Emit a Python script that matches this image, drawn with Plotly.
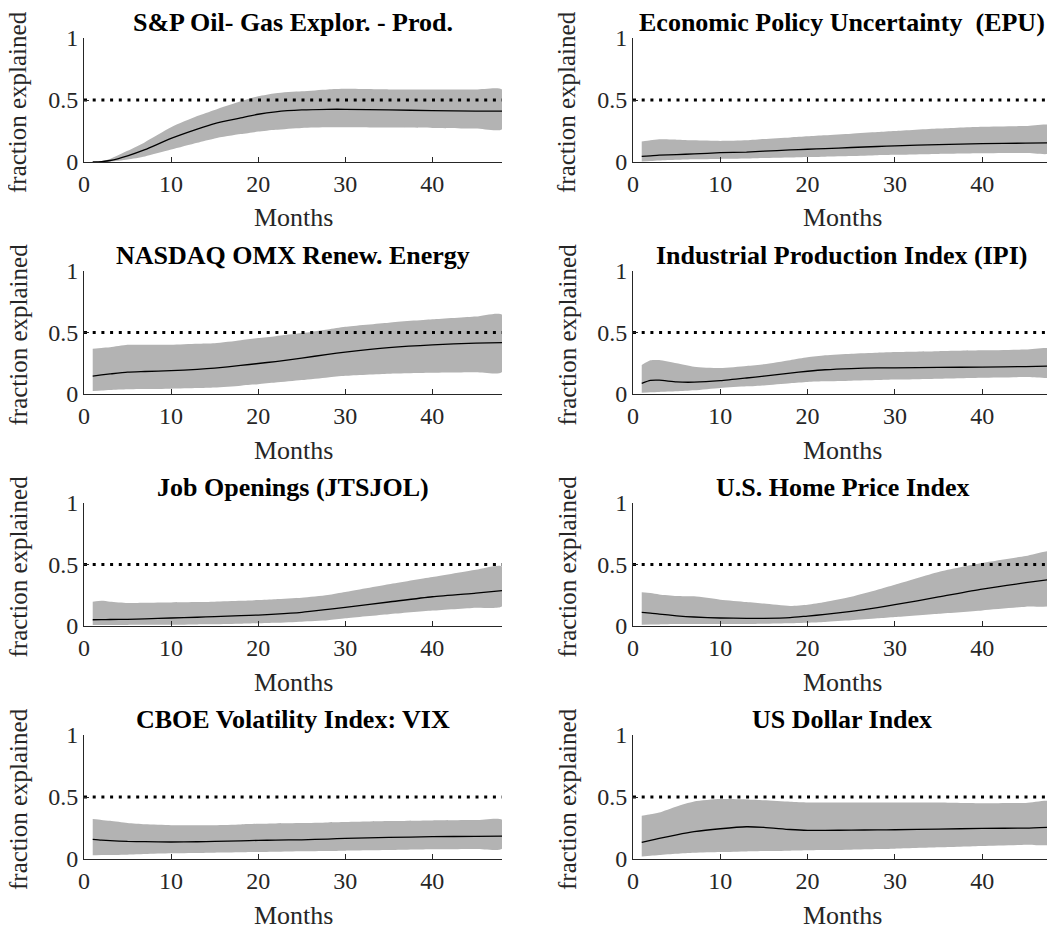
import plotly.graph_objects as go

months = [1, 2, 3, 5, 7, 10, 13, 15, 18, 20, 22, 25, 28, 30, 35, 40, 45, 48]

titles = ["S&P Oil- Gas Explor. - Prod.", "Economic Policy Uncertainty  (EPU)",
          "NASDAQ OMX Renew. Energy", "Industrial Production Index (IPI)",
          "Job Openings (JTSJOL)", "U.S. Home Price Index",
          "CBOE Volatility Index: VIX", "US Dollar Index"]

oil_med = [0.0, 0.003, 0.012, 0.05, 0.10, 0.19, 0.265, 0.31, 0.355, 0.385, 0.405, 0.42, 0.425, 0.425, 0.42, 0.415, 0.41, 0.41]
oil_hi = [0.0, 0.008, 0.025, 0.09, 0.16, 0.28, 0.37, 0.42, 0.49, 0.53, 0.555, 0.57, 0.585, 0.59, 0.585, 0.585, 0.585, 0.585]
oil_lo = [0.0, 0.0, 0.002, 0.02, 0.045, 0.10, 0.155, 0.19, 0.225, 0.245, 0.26, 0.275, 0.28, 0.28, 0.278, 0.275, 0.27, 0.265]

epu_med = [0.045, 0.05, 0.055, 0.06, 0.065, 0.075, 0.08, 0.087, 0.097, 0.103, 0.108, 0.117, 0.125, 0.13, 0.14, 0.148, 0.152, 0.155]
epu_hi = [0.165, 0.175, 0.183, 0.18, 0.175, 0.17, 0.175, 0.185, 0.198, 0.207, 0.215, 0.228, 0.242, 0.25, 0.27, 0.285, 0.29, 0.293]
epu_lo = [0.005, 0.008, 0.012, 0.018, 0.022, 0.025, 0.028, 0.032, 0.036, 0.04, 0.043, 0.048, 0.055, 0.058, 0.065, 0.07, 0.072, 0.073]

nas_med = [0.146, 0.155, 0.163, 0.178, 0.183, 0.19, 0.2, 0.21, 0.232, 0.248, 0.264, 0.292, 0.322, 0.34, 0.377, 0.40, 0.413, 0.418]
nas_hi = [0.368, 0.375, 0.38, 0.40, 0.40, 0.40, 0.408, 0.412, 0.437, 0.455, 0.47, 0.495, 0.525, 0.547, 0.58, 0.607, 0.63, 0.645]
nas_lo = [0.024, 0.028, 0.032, 0.038, 0.04, 0.043, 0.048, 0.053, 0.068, 0.08, 0.093, 0.113, 0.135, 0.148, 0.165, 0.173, 0.177, 0.179]

ipi_med = [0.087, 0.11, 0.112, 0.098, 0.096, 0.108, 0.13, 0.146, 0.17, 0.185, 0.197, 0.207, 0.212, 0.213, 0.216, 0.219, 0.223, 0.227]
ipi_hi = [0.236, 0.274, 0.276, 0.25, 0.222, 0.211, 0.228, 0.242, 0.275, 0.298, 0.315, 0.328, 0.336, 0.341, 0.348, 0.355, 0.362, 0.366]
ipi_lo = [0.011, 0.014, 0.017, 0.022, 0.03, 0.049, 0.062, 0.07, 0.088, 0.098, 0.103, 0.108, 0.113, 0.117, 0.125, 0.133, 0.138, 0.141]

job_med = [0.051, 0.052, 0.053, 0.054, 0.058, 0.065, 0.071, 0.076, 0.084, 0.089, 0.096, 0.111, 0.135, 0.152, 0.195, 0.238, 0.268, 0.287]
job_hi = [0.198, 0.205, 0.198, 0.188, 0.19, 0.192, 0.195, 0.198, 0.205, 0.211, 0.218, 0.23, 0.252, 0.276, 0.339, 0.398, 0.458, 0.485]
job_lo = [0.008, 0.008, 0.008, 0.009, 0.01, 0.011, 0.013, 0.014, 0.018, 0.022, 0.026, 0.035, 0.046, 0.062, 0.095, 0.125, 0.149, 0.16]

hpi_med = [0.111, 0.105, 0.097, 0.083, 0.073, 0.065, 0.062, 0.062, 0.068, 0.081, 0.094, 0.119, 0.15, 0.173, 0.236, 0.30, 0.352, 0.38]
hpi_hi = [0.274, 0.268, 0.257, 0.244, 0.241, 0.214, 0.195, 0.182, 0.163, 0.173, 0.195, 0.238, 0.295, 0.336, 0.44, 0.512, 0.569, 0.604]
hpi_lo = [0.011, 0.012, 0.013, 0.016, 0.016, 0.016, 0.017, 0.019, 0.023, 0.027, 0.033, 0.046, 0.062, 0.073, 0.10, 0.127, 0.157, 0.173]

vix_med = [0.158, 0.152, 0.148, 0.142, 0.14, 0.137, 0.139, 0.142, 0.146, 0.15, 0.152, 0.155, 0.161, 0.166, 0.174, 0.18, 0.183, 0.185]
vix_hi = [0.322, 0.315, 0.308, 0.29, 0.28, 0.273, 0.273, 0.273, 0.279, 0.284, 0.287, 0.29, 0.295, 0.298, 0.306, 0.311, 0.314, 0.316]
vix_lo = [0.03, 0.032, 0.033, 0.035, 0.04, 0.046, 0.049, 0.051, 0.054, 0.056, 0.058, 0.062, 0.065, 0.067, 0.072, 0.078, 0.081, 0.083]

usd_med = [0.134, 0.15, 0.166, 0.195, 0.22, 0.244, 0.26, 0.255, 0.238, 0.231, 0.231, 0.233, 0.235, 0.236, 0.241, 0.247, 0.249, 0.257]
usd_hi = [0.349, 0.36, 0.375, 0.424, 0.464, 0.483, 0.48, 0.474, 0.462, 0.456, 0.455, 0.456, 0.456, 0.456, 0.456, 0.45, 0.452, 0.461]
usd_lo = [0.021, 0.026, 0.032, 0.042, 0.05, 0.056, 0.061, 0.064, 0.067, 0.07, 0.072, 0.075, 0.08, 0.083, 0.094, 0.105, 0.115, 0.123]

panels = [
    (oil_med, oil_hi, oil_lo), (epu_med, epu_hi, epu_lo),
    (nas_med, nas_hi, nas_lo), (ipi_med, ipi_hi, ipi_lo),
    (job_med, job_hi, job_lo), (hpi_med, hpi_hi, hpi_lo),
    (vix_med, vix_hi, vix_lo), (usd_med, usd_hi, usd_lo),
]

threshold = 0.5
x_ticks = [0, 10, 20, 30, 40]
y_ticks = [0, 0.5, 1]
x_range = [0, 48]

# the page body has an 8px margin, so the figure is drawn 8px in from the window corner
OFF = 8
W, H = 1055 - OFF, 932 - OFF
col_px = [(84 - OFF, 502 - OFF), (633 - OFF, 1052 - OFF)]
row_px = [(38 - OFF, 162 - OFF), (271 - OFF, 394 - OFF), (503 - OFF, 626 - OFF), (735 - OFF, 859 - OFF)]

FONT = "Liberation Serif, Times New Roman, serif"
AX = "#262626"
BAND = "#b3b3b3"

fig = go.Figure()
annotations = []
for i, (med, hi, lo) in enumerate(panels):
    r, c = divmod(i, 2)
    n = i + 1
    xa = "x" if n == 1 else f"x{n}"
    ya = "y" if n == 1 else f"y{n}"
    fig.add_trace(go.Scatter(
        x=months + months[::-1], y=hi + lo[::-1], xaxis=xa, yaxis=ya,
        fill="toself", fillcolor=BAND, line=dict(width=0, shape="spline", smoothing=0.6),
        mode="lines", hoverinfo="skip", showlegend=False))
    fig.add_trace(go.Scatter(
        x=x_range, y=[threshold, threshold], xaxis=xa, yaxis=ya, mode="lines",
        line=dict(color="black", width=3, dash="3px,5.7px"), showlegend=False))
    fig.add_trace(go.Scatter(
        x=months, y=med, xaxis=xa, yaxis=ya, mode="lines",
        line=dict(color="black", width=1.3, shape="spline", smoothing=0.6), showlegend=False))

    x0, x1 = col_px[c]
    yt, yb = row_px[r]
    xd = [x0 / W, x1 / W]
    yd = [1 - yb / H, 1 - yt / H]
    axkey = "xaxis" if n == 1 else f"xaxis{n}"
    aykey = "yaxis" if n == 1 else f"yaxis{n}"
    fig.layout[axkey] = dict(
        domain=xd, range=x_range, tickvals=x_ticks, ticks="inside", ticklen=5,
        tickcolor=AX, showline=True, linecolor=AX, linewidth=1, showgrid=False,
        zeroline=False, anchor=ya, automargin=False,
        tickfont=dict(family=FONT, size=24, color=AX))
    fig.layout[aykey] = dict(
        domain=yd, range=[0, 1], tickvals=y_ticks, ticktext=["0", "0.5", "1"],
        ticks="inside", ticklen=5, tickcolor=AX, showline=True, linecolor=AX,
        linewidth=1, showgrid=False, zeroline=False, anchor=xa, automargin=False,
        tickfont=dict(family=FONT, size=24, color=AX))

    xc = (xd[0] + xd[1]) / 2
    annotations.append(dict(
        text=f"<b>{titles[i]}</b>", x=xc, y=yd[1], xref="paper", yref="paper",
        xanchor="center", yanchor="bottom", yshift=-1, showarrow=False,
        font=dict(family=FONT, size=26, color="black")))
    annotations.append(dict(
        text="fraction explained", x=xd[0], y=(yd[0] + yd[1]) / 2, xref="paper",
        yref="paper", xanchor="center", yanchor="middle", xshift=-66, yshift=-2,
        textangle=-90, showarrow=False, font=dict(family=FONT, size=25, color=AX)))
    annotations.append(dict(
        text="Months", x=xc, y=yd[0], xref="paper", yref="paper",
        xanchor="center", yanchor="middle", yshift=-56, showarrow=False,
        font=dict(family=FONT, size=26, color=AX)))

fig.update_layout(
    template="none",
    width=W, height=H, autosize=False,
    margin=dict(l=0, r=0, t=0, b=0, pad=0, autoexpand=False),
    paper_bgcolor="white", plot_bgcolor="white", annotations=annotations,
    showlegend=False)

fig.write_html("out.html")
